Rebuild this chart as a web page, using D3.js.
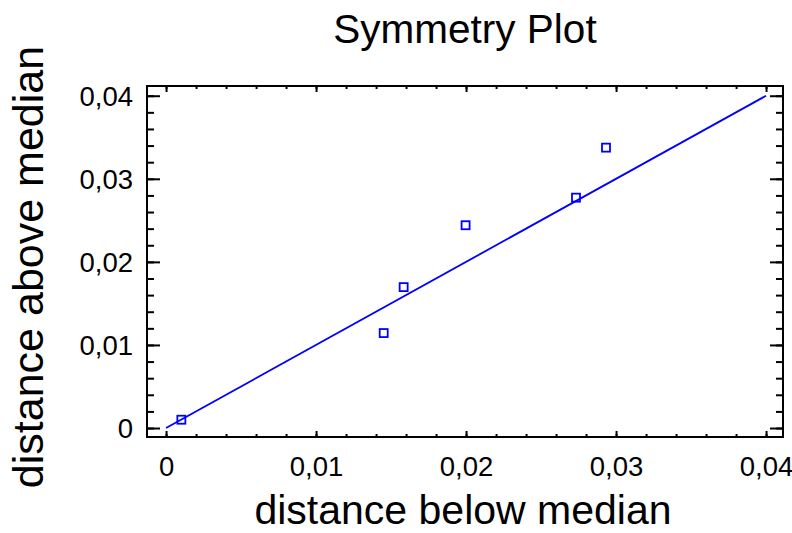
<!DOCTYPE html>
<html>
<head>
<meta charset="utf-8">
<script src="https://cdn.jsdelivr.net/npm/d3@7"></script>
<style>
  body { margin: 0; background: #fff; }
  text { font-family: Arial, "Liberation Sans", sans-serif; fill: #000; }
</style>
</head>
<body>
<script>
// symmetry plot data: distance below median vs distance above median
var belowMedian = [0.00102, 0.01451, 0.01584, 0.01997, 0.02733, 0.02933];
var aboveMedian = [0.00100, 0.01143, 0.01696, 0.02441, 0.02773, 0.03375];
var majorTicks = [0, 0.01, 0.02, 0.03, 0.04];
var minorTicks = d3.range(0, 0.0401, 0.002);
var refLine = [0, 0.04];

var width = 792, height = 533;
var plotLeft = 147, plotRight = 783, plotTop = 86, plotBottom = 437;

var svg = d3.select("body").append("svg")
    .attr("width", width)
    .attr("height", height);

var x = d3.scaleLinear().domain([-0.00127, 0.04113]).range([plotLeft, plotRight]);
var y = d3.scaleLinear().domain([-0.00108, 0.04117]).range([plotBottom, plotTop]);

// tick labels use comma as decimal mark
var fmt = d3.formatLocale({decimal: ",", thousands: ".", grouping: [3], currency: ["", ""]}).format("~g");

// draws one set of inward ticks, labels optional
function ticks(axis, pos, vals, size, labels) {
  var g = svg.append("g")
      .attr("transform", pos)
      .call(axis.tickValues(vals).tickSizeInner(-size).tickSizeOuter(0)
        .tickPadding(0)
        .tickFormat(labels ? fmt : ""));
  g.select(".domain").remove();
  g.selectAll(".tick line").attr("stroke", "#000").attr("stroke-width", 2);
  g.selectAll("text").style("font-size", "27.5px").attr("fill", "#000");
  return g;
}

// minor ticks
ticks(d3.axisBottom(x), "translate(0," + plotBottom + ")", minorTicks, 3, false);
ticks(d3.axisTop(x), "translate(0," + plotTop + ")", minorTicks, 3, false);
ticks(d3.axisLeft(y), "translate(" + plotLeft + ",0)", minorTicks, 7, false);
ticks(d3.axisRight(y), "translate(" + plotRight + ",0)", minorTicks, 7, false);

// major ticks
var xb = ticks(d3.axisBottom(x), "translate(0," + plotBottom + ")", majorTicks, 6, true);
xb.selectAll("text").attr("y", 39).attr("dy", 0);
ticks(d3.axisTop(x), "translate(0," + plotTop + ")", majorTicks, 6, false);
var yl = ticks(d3.axisLeft(y), "translate(" + plotLeft + ",0)", majorTicks, 13, true);
yl.selectAll("text").attr("x", -14).attr("dy", "0.36em");
ticks(d3.axisRight(y), "translate(" + plotRight + ",0)", majorTicks, 13, false);

// frame
svg.append("rect")
    .attr("x", plotLeft).attr("y", plotTop)
    .attr("width", plotRight - plotLeft).attr("height", plotBottom - plotTop)
    .attr("fill", "none").attr("stroke", "#000").attr("stroke-width", 2);

// reference line y = x
svg.append("line")
    .attr("x1", x(refLine[0])).attr("y1", y(refLine[0]))
    .attr("x2", x(refLine[1])).attr("y2", y(refLine[1]))
    .attr("stroke", "#0000ff").attr("stroke-width", 1.8);

// points
svg.selectAll(".pt")
    .data(belowMedian)
    .enter().append("rect")
    .attr("class", "pt")
    .attr("x", function(d){ return x(d) - 4; })
    .attr("y", function(d, i){ return y(aboveMedian[i]) - 4; })
    .attr("width", 8).attr("height", 8)
    .attr("fill", "none").attr("stroke", "#0000ff").attr("stroke-width", 1.8);

// titles
svg.append("text")
    .attr("x", (plotLeft + plotRight) / 2).attr("y", 43)
    .attr("text-anchor", "middle")
    .style("font-size", "40.5px")
    .text("Symmetry Plot");

svg.append("text")
    .attr("x", 463).attr("y", 524)
    .attr("text-anchor", "middle")
    .style("font-size", "41px")
    .text("distance below median");

svg.append("text")
    .attr("transform", "translate(43,267) rotate(-90)")
    .attr("text-anchor", "middle")
    .style("font-size", "43px")
    .text("distance above median");
</script>
</body>
</html>
